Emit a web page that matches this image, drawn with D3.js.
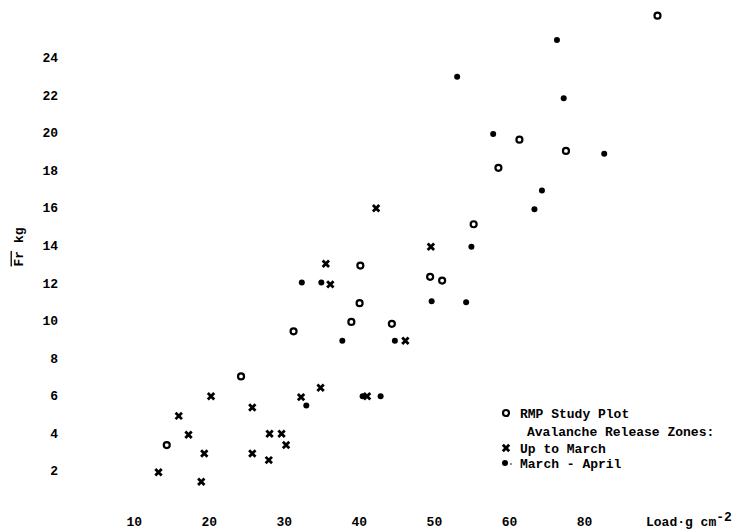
<!DOCTYPE html>
<html>
<head>
<meta charset="utf-8">
<script src="https://cdn.jsdelivr.net/npm/d3@7"></script>
<style>
  html, body { margin: 0; padding: 0; background: #fff; }
  svg { display: block; }
  text { font-family: "Liberation Mono", "DejaVu Sans Mono", monospace; font-weight: bold; fill: #000; }
</style>
</head>
<body>
<svg id="chart" width="732" height="531"></svg>
<script>
// Axis ticks and their printed labels
const xTickValues = [10, 20, 30, 40, 50, 60, 70];
const xTickLabels = ["10", "20", "30", "40", "50", "60", "80"];
const yTickValues = [2, 4, 6, 8, 10, 12, 14, 16, 18, 20, 22, 24];

// RMP Study Plot (load g/cm², release force kg)
const rmpLoad  = [14.4, 24.3, 31.3, 39.0, 40.1, 40.2, 44.4, 49.5, 51.1, 55.3, 58.6, 61.4, 67.6, 79.8];
const rmpForce = [3.35, 7.0, 9.4, 9.9, 10.9, 12.9, 9.8, 12.3, 12.1, 15.1, 18.1, 19.6, 19.0, 26.2];

// Avalanche release zones, up to March
const upToMarchLoad  = [13.3, 16.0, 17.3, 19.0, 19.4, 20.3, 25.8, 25.8, 28.1, 28.0, 29.7, 30.3, 32.3, 34.9, 35.6, 36.2, 41.1, 42.3, 46.2, 49.6];
const upToMarchForce = [1.9, 4.9, 3.9, 1.4, 2.9, 5.95, 5.35, 2.9, 3.95, 2.55, 3.95, 3.35, 5.9, 6.4, 13.0, 11.9, 5.95, 15.95, 8.9, 13.9];

// Avalanche release zones, March - April
const marchAprilLoad  = [32.4, 35.0, 33.0, 37.8, 40.5, 42.9, 44.8, 49.7, 54.3, 55.0, 63.4, 64.4, 53.1, 57.9, 66.4, 67.3, 72.7];
const marchAprilForce = [12.0, 12.0, 5.45, 8.9, 5.95, 5.95, 8.9, 11.0, 10.95, 13.9, 15.9, 16.9, 22.95, 19.9, 24.9, 21.8, 18.85];

const svg = d3.select("#chart");

const x = d3.scaleLinear().domain([0, 80]).range([58.7, 659]);
const y = d3.scaleLinear().domain([0, 24]).range([508, 57]);

// Axes: labels only, no lines
const xAxis = svg.append("g")
  .attr("transform", "translate(0,521.5)")
  .call(d3.axisBottom(x).tickValues(xTickValues).tickSize(0).tickPadding(0)
    .tickFormat((d, i) => xTickLabels[i]));
xAxis.select(".domain").remove();
xAxis.selectAll("text")
  .attr("y", 0).attr("dy", "0.35em")
  .style("font-size", "13px").style("font-family", "'Liberation Mono', monospace").style("font-weight", "bold");

const yAxis = svg.append("g")
  .attr("transform", "translate(58,0)")
  .call(d3.axisLeft(y).tickValues(yTickValues).tickSize(0).tickPadding(0));
yAxis.select(".domain").remove();
yAxis.selectAll("text")
  .attr("dy", "0.35em")
  .style("font-size", "13px").style("font-family", "'Liberation Mono', monospace").style("font-weight", "bold");

// Axis titles
const xTitle = svg.append("text")
  .attr("x", 646).attr("y", 526)
  .style("font-size", "13px");
xTitle.append("tspan").text("Load·g cm");
xTitle.append("tspan").attr("dy", -5).text("-2");

const yTitle = svg.append("text")
  .attr("transform", "translate(18,247) rotate(-90)")
  .attr("text-anchor", "middle")
  .attr("dy", "0.35em")
  .style("font-size", "13px");
yTitle.append("tspan").attr("text-decoration", "overline").text("Fr");
yTitle.append("tspan").text("  kg");

// Marker drawers
function ring(g, cx, cy) {
  g.append("circle").attr("cx", cx).attr("cy", cy).attr("r", 3)
    .attr("fill", "none").attr("stroke", "#000").attr("stroke-width", 2.2);
}
function cross(g, cx, cy) {
  const s = 3.2;
  g.append("path")
    .attr("d", `M${cx - s},${cy - s}L${cx + s},${cy + s}M${cx + s},${cy - s}L${cx - s},${cy + s}`)
    .attr("stroke", "#000").attr("stroke-width", 2.8).attr("stroke-linecap", "butt");
}
function dot(g, cx, cy) {
  g.append("circle").attr("cx", cx).attr("cy", cy).attr("r", 3).attr("fill", "#000");
}

const marks = svg.append("g");
marchAprilLoad.forEach((v, i) => dot(marks, x(v), y(marchAprilForce[i])));
upToMarchLoad.forEach((v, i) => cross(marks, x(v), y(upToMarchForce[i])));
rmpLoad.forEach((v, i) => ring(marks, x(v), y(rmpForce[i])));

// Legend
const legend = svg.append("g").style("font-size", "13px");
ring(legend, 506, 413);
legend.append("text").attr("x", 520).attr("y", 413).attr("dy", "0.35em").text("RMP Study Plot");
legend.append("text").attr("x", 527).attr("y", 431).attr("dy", "0.35em").text("Avalanche Release Zones:");
cross(legend, 506, 448);
legend.append("text").attr("x", 520).attr("y", 448).attr("dy", "0.35em").text("Up to March");
dot(legend, 505, 463);
legend.append("circle").attr("cx", 511).attr("cy", 464).attr("r", 0.8).attr("fill", "#000");
legend.append("text").attr("x", 520).attr("y", 463).attr("dy", "0.35em").text("March - April");
</script>
</body>
</html>
